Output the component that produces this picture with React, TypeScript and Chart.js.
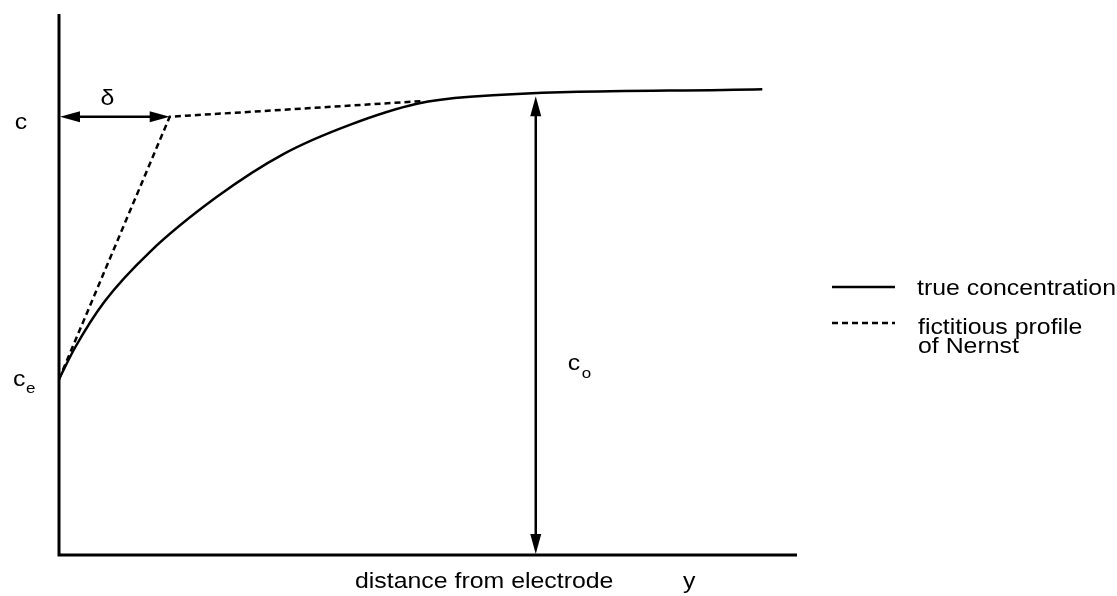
import React, { useEffect, useRef } from "react";
import { Chart, registerables } from "chart.js";

Chart.register(...registerables);

// Distance from electrode (arbitrary units 0..100) and concentration (0..100)
const trueX = [0, 2.2, 6.2, 12.3, 21.4, 30.4, 39.4, 48.5, 55.7, 95.3];
const trueY = [32.5, 38.4, 46.9, 56, 66.2, 74.1, 79.5, 83.4, 84.7, 86.1];

const nernstX = [0, 15, 49.3];
const nernstY = [32.5, 81, 83.9];

const C_E = 32.5; // concentration at electrode
const C_LEVEL = 81; // c
const DELTA = 15; // Nernst layer thickness
const C0_X = 64.6; // position of c0 arrow
const C0_TOP = 84.8; // c0 value

const legendLabels = ["true concentration", "fictitious profile", "of Nernst"];
const axisTitle = "distance from electrode";
const axisVar = "y";

const FAMILY = '"Liberation Sans", Arial, sans-serif';
const SX = 1.13;

function txt(ctx: CanvasRenderingContext2D, s: string, x: number, y: number, size: number, align: CanvasTextAlign = "left") {
  ctx.save();
  ctx.font = `${size}px ${FAMILY}`;
  ctx.textAlign = align;
  ctx.textBaseline = "alphabetic";
  ctx.translate(x, y);
  ctx.scale(SX, 1);
  ctx.fillText(s, 0, 0);
  ctx.restore();
}

function arrowHead(ctx: CanvasRenderingContext2D, tx: number, ty: number, dx: number, dy: number) {
  const len = 20;
  const hw = 5.5;
  const bx = tx - dx * len;
  const by = ty - dy * len;
  const px = -dy;
  const py = dx;
  ctx.beginPath();
  ctx.moveTo(tx, ty);
  ctx.lineTo(bx + px * hw, by + py * hw);
  ctx.lineTo(bx - px * hw, by - py * hw);
  ctx.closePath();
  ctx.fill();
}

const overlay = {
  id: "overlay",
  afterDatasetsDraw(chart: any) {
    const ctx: CanvasRenderingContext2D = chart.ctx;
    const { left, top, right, bottom } = chart.chartArea;
    const xs = chart.scales.x;
    const ys = chart.scales.y;
    ctx.save();
    ctx.strokeStyle = "#000";
    ctx.fillStyle = "#000";
    ctx.lineCap = "butt";

    // axes
    ctx.lineWidth = 3;
    ctx.beginPath();
    ctx.moveTo(left, top);
    ctx.lineTo(left, bottom);
    ctx.lineTo(right, bottom);
    ctx.stroke();

    // delta arrow
    const yc = ys.getPixelForValue(C_LEVEL);
    const x0 = xs.getPixelForValue(0);
    const xd = xs.getPixelForValue(DELTA);
    ctx.lineWidth = 2.5;
    ctx.beginPath();
    ctx.moveTo(x0 + 10, yc);
    ctx.lineTo(xd - 10, yc);
    ctx.stroke();
    arrowHead(ctx, x0 + 1, yc, -1, 0);
    arrowHead(ctx, xd, yc, 1, 0);

    // c0 arrow
    const xa = xs.getPixelForValue(C0_X);
    const ya1 = ys.getPixelForValue(C0_TOP);
    const ya2 = ys.getPixelForValue(0);
    ctx.beginPath();
    ctx.moveTo(xa, ya1 + 10);
    ctx.lineTo(xa, ya2 - 10);
    ctx.stroke();
    arrowHead(ctx, xa, ya1, 0, -1);
    arrowHead(ctx, xa, ya2 - 1, 0, 1);

    // labels
    txt(ctx, "c", left - 38, yc + 12, 22, "center");
    txt(ctx, "δ", (x0 + xd) / 2 - 7, yc - 12, 22, "center");

    const yce = ys.getPixelForValue(C_E);
    txt(ctx, "c", left - 46, yce + 7, 22);
    txt(ctx, "e", left - 33, yce + 14, 15);

    txt(ctx, "c", xa + 32, 370, 22);
    txt(ctx, "o", xa + 46, 378, 15);

    txt(ctx, axisTitle, 355, 588, 22);
    txt(ctx, axisVar, 683, 588, 22);

    // legend
    ctx.lineWidth = 2.5;
    ctx.beginPath();
    ctx.moveTo(832, 287);
    ctx.lineTo(895, 287);
    ctx.stroke();
    ctx.setLineDash([6, 4]);
    ctx.beginPath();
    ctx.moveTo(832, 323);
    ctx.lineTo(895, 323);
    ctx.stroke();
    ctx.setLineDash([]);
    txt(ctx, legendLabels[0], 917, 295, 22);
    txt(ctx, legendLabels[1], 918, 334, 22);
    txt(ctx, legendLabels[2], 918, 353, 22);

    ctx.restore();
  },
};

export default function App() {
  const ref = useRef<HTMLCanvasElement | null>(null);
  useEffect(() => {
    if (!ref.current) return;
    const chart = new Chart(ref.current, {
      type: "line",
      data: {
        datasets: [
          {
            label: legendLabels[0],
            data: trueX.map((x, i) => ({ x, y: trueY[i] })),
            borderColor: "#000",
            borderWidth: 2.5,
            pointRadius: 0,
            cubicInterpolationMode: "monotone",
            fill: false,
          },
          {
            label: legendLabels[1] + " " + legendLabels[2],
            data: nernstX.map((x, i) => ({ x, y: nernstY[i] })),
            borderColor: "#000",
            borderWidth: 2.5,
            borderDash: [6, 4],
            pointRadius: 0,
            tension: 0,
            fill: false,
          },
        ],
      },
      options: {
        responsive: false,
        animation: false,
        layout: { padding: { left: 59, right: 320, top: 14, bottom: 41 } },
        scales: {
          x: { type: "linear", min: 0, max: 100, display: false },
          y: { type: "linear", min: 0, max: 100, display: false },
        },
        plugins: { legend: { display: false }, tooltip: { enabled: false }, title: { display: false } },
        events: [],
      },
      plugins: [overlay],
    });
    return () => chart.destroy();
  }, []);
  return (
    <div style={{ position: "absolute", left: 0, top: 0, width: 1117, height: 596, background: "#fff" }}>
      <canvas ref={ref} width={1117} height={596} style={{ width: 1117, height: 596 }} />
    </div>
  );
}
